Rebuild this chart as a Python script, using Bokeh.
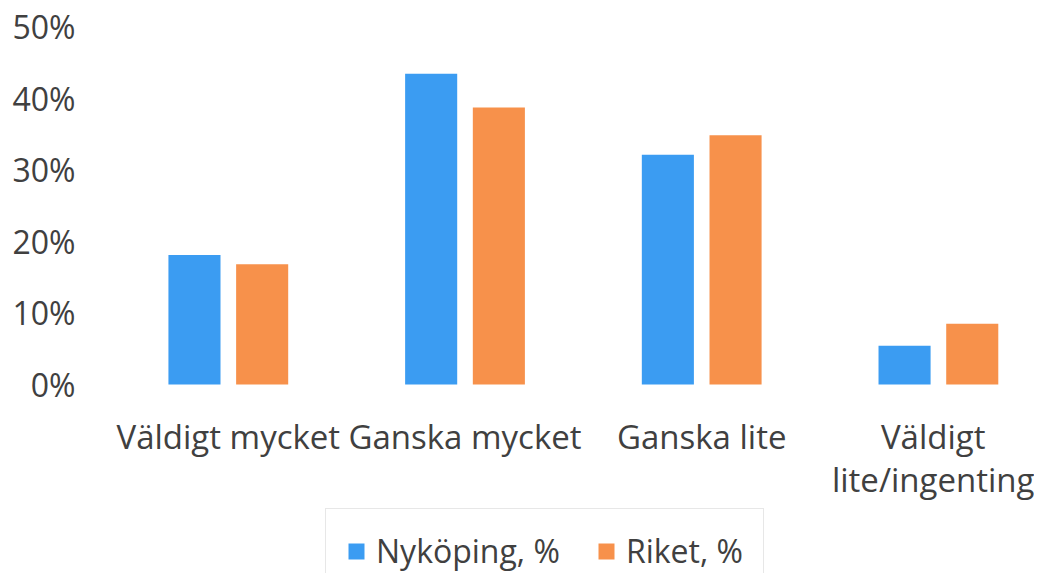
from bokeh.plotting import figure
from bokeh.models import ColumnDataSource, Legend, LegendItem, FixedTicker, Range1d
from bokeh.embed import file_html
from bokeh.resources import INLINE

categories = ["Väldigt mycket", "Ganska mycket", "Ganska lite", "Väldigt lite/ingenting"]
tick_labels = ["Väldigt mycket", "Ganska mycket", "Ganska lite", "Väldigt\nlite/ingenting"]
nykoping = [18.1, 43.4, 32.1, 5.4]
riket = [16.8, 38.7, 34.8, 8.5]
series_names = ["Nyköping, %", "Riket, %"]
y_ticks = [0, 10, 20, 30, 40, 50]

BLUE = "#3B9CF2"
ORANGE = "#F7914B"
FONT = "Open Sans"
TEXT = "#404040"

idx = list(range(len(categories)))
off = 0.143
src = ColumnDataSource(dict(
    x_n=[i - off for i in idx],
    x_r=[i + off for i in idx],
    nyk=nykoping,
    rik=riket,
))

# frame extends below zero so the axis labels and legend sit inside it
p = figure(frame_width=934, frame_height=547, output_backend="svg", toolbar_location=None,
           x_range=Range1d(-0.54, 3.406), y_range=Range1d(-26.4, 50),
           min_border_left=100, min_border_right=0, min_border_top=26, min_border_bottom=0,
           outline_line_color=None, background_fill_color="white")

r1 = p.vbar(x="x_n", top="nyk", width=0.22, source=src, fill_color=BLUE, line_color=None)
r2 = p.vbar(x="x_r", top="rik", width=0.22, source=src, fill_color=ORANGE, line_color=None)

p.xgrid.grid_line_color = None
p.ygrid.grid_line_color = None

p.xaxis.ticker = FixedTicker(ticks=idx)
p.xaxis.major_label_overrides = {i: t for i, t in zip(idx, tick_labels)}
p.xaxis.fixed_location = 0
p.yaxis.ticker = FixedTicker(ticks=y_ticks)
p.yaxis.major_label_overrides = {t: f"{t}%" for t in y_ticks}

for ax in (p.xaxis[0], p.yaxis[0]):
    ax.axis_line_color = None
    ax.major_tick_line_color = None
    ax.minor_tick_line_color = None
    ax.major_tick_out = 0
    ax.major_tick_in = 0
    ax.minor_tick_out = 0
    ax.major_label_text_font = FONT
    ax.major_label_text_color = TEXT
p.yaxis.major_label_text_font_size = "32px"
p.xaxis.major_label_text_font_size = "33px"
p.yaxis.major_label_standoff = 25
p.xaxis.major_label_standoff = 30
p.xaxis.major_label_text_line_height = 0.95

legend = Legend(items=[LegendItem(label=series_names[0], renderers=[r1]),
                       LegendItem(label=series_names[1], renderers=[r2])],
                orientation="horizontal", location=(225, -20))
legend.label_text_font = FONT
legend.label_text_font_size = "32px"
legend.label_text_color = TEXT
legend.glyph_width = 20
legend.glyph_height = 20
legend.spacing = 36
legend.padding = 20
legend.label_standoff = 10
legend.border_line_color = "#d0d0d0"
legend.border_line_width = 1
legend.margin = 0
p.add_layout(legend, "center")

open("out.html", "w").write(file_html(p, INLINE))
